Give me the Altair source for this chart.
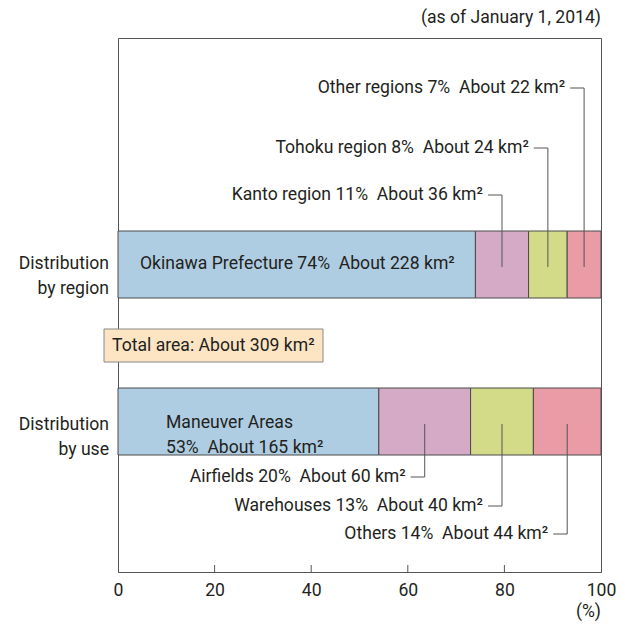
import altair as alt
import pandas as pd

# ---------------- data ----------------
region_names = ["Okinawa Prefecture", "Kanto region", "Tohoku region", "Other regions"]
region_pct = [74, 11, 8, 7]
region_km2 = [228, 36, 24, 22]

use_names = ["Maneuver Areas", "Airfields", "Warehouses", "Others"]
use_pct = [53, 20, 13, 14]
use_km2 = [165, 60, 40, 44]
use_drawn = [54, 19, 13, 14]  # segment widths as drawn in the picture

row_labels = ["Distribution\nby region", "Distribution\nby use"]
tick_values = [0, 20, 40, 60, 80, 100]
inner_ticks = [20, 40, 60, 80]
note_text = "(as of January 1, 2014)"
total_text = "Total area: About 309 km\u00b2"
unit_text = "(%)"

# ---------------- style / layout ----------------
FONT = "Roboto, Liberation Sans, sans-serif"
FS = 17.6
TXT = "#231f20"
LINE = "#555555"
COLORS = ["#aecde2", "#d4aac7", "#d3da88", "#e99ca5"]
W, H = 483, 534
ROW_TOP = [193, 350]
BAR_H = 67
SP = "\u00a0 "


def seg_table(names, widths, row, top):
    rows = []
    cum = 0
    for i, (n, w) in enumerate(zip(names, widths)):
        rows.append({"name": n, "start": cum, "end": cum + w, "mid": cum + w / 2,
                     "idx": i, "row": row, "y0": top, "y1": top + BAR_H})
        cum += w
    return rows


segs = pd.DataFrame(seg_table(region_names, region_pct, "region", ROW_TOP[0])
                    + seg_table(use_names, use_drawn, "use", ROW_TOP[1]))

# annotation (leader) table
ann_rows = []
reg_label_y = {1: 157, 2: 110, 3: 50}
for i in (1, 2, 3):
    s = segs[(segs.row == "region") & (segs.idx == i)].iloc[0]
    ann_rows.append({"text": f"{region_names[i]} {region_pct[i]}%{SP}About {region_km2[i]} km\u00b2",
                     "mid": s["mid"], "hx": s["mid"] - 2.9, "ly": reg_label_y[i], "by": 229})
use_label_y = {1: 439, 2: 468, 3: 496}
for i in (1, 2, 3):
    s = segs[(segs.row == "use") & (segs.idx == i)].iloc[0]
    ann_rows.append({"text": f"{use_names[i]} {use_pct[i]}%{SP}About {use_km2[i]} km\u00b2",
                     "mid": s["mid"], "hx": s["mid"] - 2.9, "ly": use_label_y[i], "by": 386})
ann = pd.DataFrame(ann_rows)

xscale = alt.Scale(domain=[0, 100], nice=False, zero=True)
xaxis = alt.Axis(values=tick_values, ticks=False, grid=False, title=None,
                 labelFontSize=FS, labelFont=FONT, labelColor=TXT, labelPadding=9,
                 domainColor=LINE, labelFlush=False)
dummy = pd.DataFrame({"d": [0]})

bars = alt.Chart(segs).mark_bar(stroke="#4a4a4a", strokeWidth=1).encode(
    x=alt.X("start:Q", scale=xscale, axis=xaxis),
    x2="end:Q",
    y=alt.Y("y0:Q", scale=None, axis=None),
    y2="y1:Q",
    color=alt.Color("idx:N", scale=alt.Scale(domain=[0, 1, 2, 3], range=COLORS), legend=None),
)

ticks = alt.Chart(pd.DataFrame({"t": inner_ticks})).mark_rule(color=LINE, strokeWidth=1).encode(
    x=alt.X("t:Q", scale=xscale), y=alt.value(H - 7), y2=alt.value(H))

vrules = alt.Chart(ann).mark_rule(color=LINE, strokeWidth=1).encode(
    x=alt.X("mid:Q", scale=xscale), y=alt.Y("ly:Q", scale=None), y2="by:Q")
hrules = alt.Chart(ann).mark_rule(color=LINE, strokeWidth=1).encode(
    x=alt.X("hx:Q", scale=xscale), x2="mid:Q", y=alt.Y("ly:Q", scale=None))
labels = alt.Chart(ann).mark_text(align="right", baseline="middle", dx=-19,
                                  font=FONT, fontSize=FS, color=TXT).encode(
    x=alt.X("mid:Q", scale=xscale), y=alt.Y("ly:Q", scale=None), text="text:N")


def txt(t, x, y, align="left", **kw):
    return alt.Chart(dummy).mark_text(align=align, baseline="middle", font=FONT, fontSize=FS,
                                      color=TXT, lineBreak="\n", **kw).encode(
        x=alt.value(x), y=alt.value(y), text=alt.value(t))


okinawa = txt(f"{region_names[0]} {region_pct[0]}%{SP}About {region_km2[0]} km\u00b2", 22, 226)
maneuver = txt(f"{use_names[0]}\n{use_pct[0]}%{SP}About {use_km2[0]} km\u00b2", 48, 385, lineHeight=25)
row1 = txt(row_labels[0], -9, 226, align="right", lineHeight=25)
row2 = txt(row_labels[1], -9, 387, align="right", lineHeight=25)
note = txt(note_text, W, -20, align="right")
unit = txt(unit_text, W, 574, align="right")

box = alt.Chart(dummy).mark_rect(fill="#fde4c3", stroke="#888888", strokeWidth=1).encode(
    x=alt.value(-14), x2=alt.value(205), y=alt.value(291), y2=alt.value(324))
total = txt(total_text, -6, 308)

chart = alt.layer(
    bars, ticks, vrules, hrules, labels, okinawa, maneuver, row1, row2, note, unit, box, total
).properties(
    width=W, height=H,
    autosize=alt.AutoSizeParams(type="none"),
    padding={"left": 110, "top": 30, "right": 16, "bottom": 50},
).configure_view(stroke=LINE, strokeWidth=1)

chart.save("out.html", embed_options={"renderer": "svg", "actions": False})
